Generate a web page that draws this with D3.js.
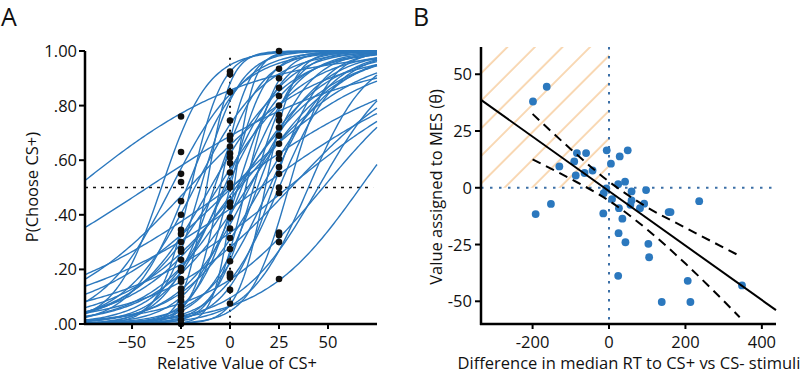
<!DOCTYPE html>
<html>
<head>
<meta charset="utf-8">
<script src="https://cdn.jsdelivr.net/npm/d3@7"></script>
<style>
  body { margin: 0; background: #fff; }
  svg text { font-family: "Open Sans", sans-serif; fill: #111; }
</style>
</head>
<body>
<svg id="chart" width="800" height="374"></svg>
<script>
// ---- Panel A data: fitted logistic curves (midpoint, scale) ----
const curveMid = [-78.5, -42, 0, -20.9, 15.5, 0.8, 29.6, 5, 31, 4.4, 47.5, 66.5,
  -35, -30, -20, -15, -12, -8, -5, -3, 0, 2, 4, 6, 8, 10, 12, 14, 16, 18, 20,
  -18, -10, -6, 22, 25, -22, 40, 45, 30, 3, -2, 9];
const curveScale = [44, 53, 49, 32.6, 49, 35.5, 43, 28.7, 33, 22, 29, 25,
  12, 18, 8, 10, 6, 12, 7, 15, 9, 5, 11, 14, 8, 18, 10, 13, 20, 7, 16,
  18, 20, 22, 12, 15, 14, 15, 20, 10, 25, 17, 23];

// choice proportions at each relative value
const dotsMinus25 = [0.76, 0.63, 0.55, 0.52, 0.45, 0.40, 0.345, 0.33, 0.30, 0.275, 0.265,
  0.235, 0.205, 0.195, 0.165, 0.155, 0.13, 0.10, 0.065, 0.033, 0.0, 0.015, 0.05, 0.085, 0.115];
const dotsZero = [0.925, 0.915, 0.85, 0.745, 0.69, 0.675, 0.65, 0.625, 0.61, 0.59, 0.555,
  0.515, 0.50, 0.445, 0.43, 0.39, 0.35, 0.315, 0.275, 0.23, 0.185, 0.178, 0.17, 0.125, 0.075];
const dotsPlus25 = [1.0, 0.935, 0.90, 0.865, 0.835, 0.80, 0.765, 0.745, 0.72, 0.69, 0.66,
  0.625, 0.605, 0.575, 0.55, 0.50, 0.48, 0.335, 0.325, 0.30, 0.165];

const xTicksA = [-50, -25, 0, 25, 50];
const yTicksA = [0, 0.2, 0.4, 0.6, 0.8, 1];
const yTickLabelsA = [".00", ".20", ".40", ".60", ".80", "1.00"];

// ---- Panel B data ----
const rtDiff = [-199, -163, -130, -91, -84, -87, -64, -60, -43, -6, 5, 28, 49, 24, 42, 59, 97,
  -7, -14, 8, 59, 56, 81, 92, 26, 35, -15, -152, -192, 156, 161, 25, 43, 103, 105, 24,
  236, 206, 348, 138, 213];
const theta = [38, 44.5, 9.4, 11.6, 15.3, 5.4, 6.5, 15.3, 7.6, 16.5, 10.6, 13.8, 16.5, 1.6, 2.7, -1.6, -1,
  -0.3, -2.4, -5, -5.6, -7.5, -9, -7, -9, -13.6, -11.3, -7.1, -11.6, -10.7, -10.7, -20, -24, -24.7, -30.6, -38.8,
  -5.9, -41, -43, -50.3, -50.3];

const fitX = [-335, 437];
const fitY = [38.7, -53.9];
const bandX = [-200, -100, 0, 100, 200, 342];
const bandUpper = [32.5, 17, 2.7, -8.6, -17.6, -30];
const bandLower = [12.5, 3.9, -5.7, -18.4, -33.4, -57];

const xTicksB = [-200, 0, 200, 400];
const yTicksB = [-50, -25, 0, 25, 50];

const blue = "#2b78be";
const fs = 16.5;
const svg = d3.select("#chart");

// ================= Panel A =================
const xA = d3.scaleLinear().domain([-74, 75]).range([85, 377]);
const yA = d3.scaleLinear().domain([0, 1]).range([324, 51]);
const gA = svg.append("g");

// reference lines
gA.append("line")
  .attr("x1", xA(-74)).attr("x2", xA(73))
  .attr("y1", yA(0.5)).attr("y2", yA(0.5))
  .attr("stroke", "#111").attr("stroke-width", 1.5).attr("stroke-dasharray", "3,5");
gA.append("line")
  .attr("x1", xA(0)).attr("x2", xA(0))
  .attr("y1", yA(0.975)).attr("y2", yA(0))
  .attr("stroke", "#111").attr("stroke-width", 2).attr("stroke-dasharray", "2,4");

// curves
const xs = d3.range(-74, 75.5, 1);
const curveLine = d3.line().x(d => xA(d[0])).y(d => yA(d[1]));
curveMid.forEach((m, i) => {
  const s = curveScale[i];
  const pts = xs.map(x => [x, 1 / (1 + Math.exp(-(x - m) / s))]);
  gA.append("path")
    .attr("d", curveLine(pts))
    .attr("fill", "none")
    .attr("stroke", blue)
    .attr("stroke-width", 1.4);
});

// dots
const dotCols = [[-25, dotsMinus25], [0, dotsZero], [25, dotsPlus25]];
dotCols.forEach(([xv, vals]) => {
  gA.selectAll(null).data(vals).enter().append("circle")
    .attr("cx", xA(xv)).attr("cy", d => yA(d))
    .attr("r", 3.3).attr("fill", "#111");
});

// axes
const axA = gA.append("g");
axA.append("line").attr("x1", 85).attr("x2", 85).attr("y1", yA(1)).attr("y2", yA(0) + 1)
  .attr("stroke", "#000").attr("stroke-width", 2.5);
axA.append("line").attr("x1", 84).attr("x2", xA(75)).attr("y1", yA(0)).attr("y2", yA(0))
  .attr("stroke", "#000").attr("stroke-width", 2.5);
yTicksA.forEach((t, i) => {
  axA.append("line").attr("x1", 79).attr("x2", 85).attr("y1", yA(t)).attr("y2", yA(t))
    .attr("stroke", "#000").attr("stroke-width", 2);
  axA.append("text").attr("x", 77).attr("y", yA(t) + 6)
    .attr("text-anchor", "end").attr("font-size", fs).text(yTickLabelsA[i]);
});
xTicksA.forEach(t => {
  axA.append("line").attr("x1", xA(t)).attr("x2", xA(t)).attr("y1", yA(0)).attr("y2", yA(0) + 5)
    .attr("stroke", "#000").attr("stroke-width", 2);
  axA.append("text").attr("x", xA(t)).attr("y", 348)
    .attr("text-anchor", "middle").attr("font-size", fs)
    .text(t < 0 ? "\u2212" + Math.abs(t) : t);
});
gA.append("text").attr("x", 237).attr("y", 369).attr("text-anchor", "middle")
  .attr("font-size", fs).text("Relative Value of CS+");
gA.append("text").attr("transform", "translate(38,187) rotate(-90)")
  .attr("text-anchor", "middle").attr("font-size", fs).text("P(Choose CS+)");
svg.append("text").attr("x", 1).attr("y", 26).attr("font-size", 25).text("A");

// ================= Panel B =================
const xB = d3.scaleLinear().domain([-335, 437]).range([481, 776]);
const yB = d3.scaleLinear().domain([-60, 62]).range([324, 47]);
const gB = svg.append("g");

const defs = svg.append("defs");
const pat = defs.append("pattern").attr("id", "hatch")
  .attr("patternUnits", "userSpaceOnUse")
  .attr("width", 19.5).attr("height", 19.5)
  .attr("patternTransform", "rotate(45)");
pat.append("line").attr("x1", 2).attr("x2", 2).attr("y1", 0).attr("y2", 19.5)
  .attr("stroke", "#f7cfa2").attr("stroke-width", 1.6);

gB.append("rect")
  .attr("x", xB(-335)).attr("y", yB(62))
  .attr("width", xB(0) - xB(-335)).attr("height", yB(0) - yB(62))
  .attr("fill", "url(#hatch)");

// blue dotted zero lines
gB.append("line").attr("x1", xB(0)).attr("x2", xB(0)).attr("y1", yB(62)).attr("y2", yB(-60))
  .attr("stroke", "#3b6fa6").attr("stroke-width", 2).attr("stroke-dasharray", "2.5,6.5");
gB.append("line").attr("x1", xB(-335)).attr("x2", xB(437)).attr("y1", yB(0)).attr("y2", yB(0))
  .attr("stroke", "#3b6fa6").attr("stroke-width", 2).attr("stroke-dasharray", "2.5,6.5");

// points
gB.selectAll(null).data(rtDiff).enter().append("circle")
  .attr("cx", d => xB(d)).attr("cy", (d, i) => yB(theta[i]))
  .attr("r", 3.9).attr("fill", blue);

// regression fit and confidence bands
const lineB = d3.line().x(d => xB(d[0])).y(d => yB(d[1]));
gB.append("path").attr("d", lineB(d3.zip(fitX, fitY)))
  .attr("fill", "none").attr("stroke", "#000").attr("stroke-width", 2);
const bandLine = d3.line().x(d => xB(d[0])).y(d => yB(d[1])).curve(d3.curveMonotoneX);
[bandUpper, bandLower].forEach(b => {
  gB.append("path").attr("d", bandLine(d3.zip(bandX, b)))
    .attr("fill", "none").attr("stroke", "#000").attr("stroke-width", 2)
    .attr("stroke-dasharray", "9,6");
});

// axes
const axB = gB.append("g");
axB.append("line").attr("x1", 481).attr("x2", 481).attr("y1", yB(62)).attr("y2", yB(-60) + 1)
  .attr("stroke", "#000").attr("stroke-width", 2.5);
axB.append("line").attr("x1", 480).attr("x2", xB(437)).attr("y1", yB(-60)).attr("y2", yB(-60))
  .attr("stroke", "#000").attr("stroke-width", 2.5);
yTicksB.forEach(t => {
  axB.append("line").attr("x1", 475).attr("x2", 481).attr("y1", yB(t)).attr("y2", yB(t))
    .attr("stroke", "#000").attr("stroke-width", 2);
  axB.append("text").attr("x", 472).attr("y", yB(t) + 6)
    .attr("text-anchor", "end").attr("font-size", fs).text(t);
});
xTicksB.forEach(t => {
  axB.append("line").attr("x1", xB(t)).attr("x2", xB(t)).attr("y1", yB(-60)).attr("y2", yB(-60) + 5)
    .attr("stroke", "#000").attr("stroke-width", 2);
  axB.append("text").attr("x", xB(t)).attr("y", 348)
    .attr("text-anchor", "middle").attr("font-size", fs).text(t);
});
gB.append("text").attr("x", 629).attr("y", 369).attr("text-anchor", "middle")
  .attr("font-size", fs).text("Difference in median RT to CS+ vs CS- stimuli");
gB.append("text").attr("transform", "translate(442,187) rotate(-90)")
  .attr("text-anchor", "middle").attr("font-size", fs).text("Value assigned to MES (\u03B8)");
svg.append("text").attr("x", 413).attr("y", 26).attr("font-size", 25).text("B");
</script>
</body>
</html>
